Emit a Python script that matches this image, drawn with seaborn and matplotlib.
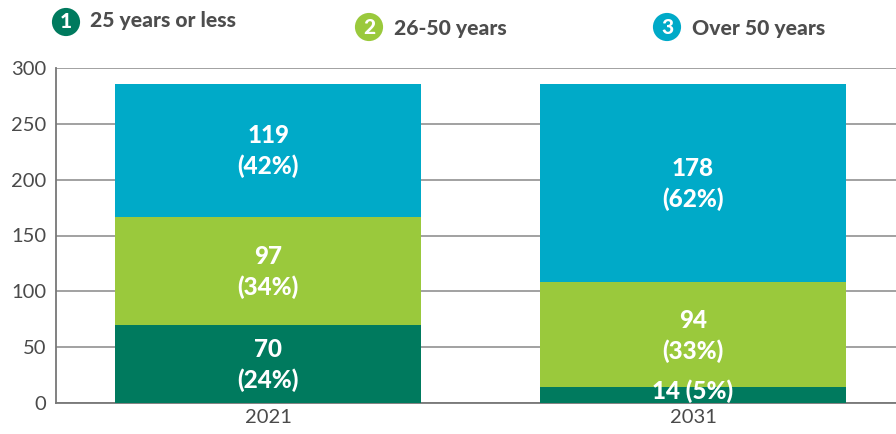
import matplotlib
matplotlib.use("Agg")
import matplotlib.pyplot as plt
import seaborn as sns
import numpy as np

years = ["2021", "2031"]
series_names = ["25 years or less", "26-50 years", "Over 50 years"]
young = [70, 14]
middle = [97, 94]
old = [119, 178]
young_pct = [24, 5]
middle_pct = [34, 33]
old_pct = [42, 62]
colors = ["#007a5e", "#9ac93c", "#00aac8"]

sns.set_theme(style="white")
plt.rcParams["font.family"] = ["Lato", "DejaVu Sans"]

fig = plt.figure(figsize=(8.96, 4.34), dpi=100)
ax = fig.add_axes([56 / 896, 31 / 434, 1 - 56 / 896, 335 / 434])

vals = [young, middle, old]
pcts = [young_pct, middle_pct, old_pct]
bottoms = np.zeros(len(years))
for v, c in zip(vals, colors):
    sns.barplot(x=years, y=v, bottom=bottoms.copy(), color=c, width=0.72,
                saturation=1, ax=ax, zorder=3, edgecolor="none", linewidth=0)
    bottoms = bottoms + np.array(v)

bottoms = np.zeros(len(years))
for v, p in zip(vals, pcts):
    for i in range(len(years)):
        center = bottoms[i] + v[i] / 2
        if v[i] < 30:
            txt = f"{v[i]} ({p[i]}%)"
            ax.text(i, 11, txt, ha="center", va="center", color="white",
                    fontsize=17.5, fontweight="black", zorder=5)
        else:
            txt = f"{v[i]}\n({p[i]}%)"
            ax.text(i, center - 1, txt, ha="center", va="center", color="white",
                    fontsize=17.5, fontweight="black", linespacing=1.4, zorder=5)
    bottoms = bottoms + np.array(v)

ax.set_ylim(0, 300)
ax.set_xlim(-0.5, 1.478)
ax.set_yticks([0, 50, 100, 150, 200, 250, 300])
ax.yaxis.grid(True, color="#9a9a9a", linewidth=1.3, zorder=0)
ax.set_axisbelow(True)
for s in ["top", "right"]:
    ax.spines[s].set_visible(False)
ax.spines["left"].set_color("#777777")
ax.spines["bottom"].set_color("#777777")
ax.spines["left"].set_linewidth(1.3)
ax.spines["bottom"].set_linewidth(1.3)
ax.tick_params(axis="both", length=0, labelsize=14.5, labelcolor="#4a4a4a", pad=7)
ax.tick_params(axis="x", pad=4)
ax.set_xlabel("")
ax.set_ylabel("")

# Legend with numbered circles
leg = [(66, 22, 90, 20), (369, 27, 394, 28), (667, 27, 692, 28)]
for k, ((cx, cy, tx, ty), name, c) in enumerate(zip(leg, series_names, colors)):
    fig.text(cx / 896, 1 - cy / 434, str(k + 1), ha="center", va="center",
             color="white", fontsize=15, fontweight="black",
             bbox=dict(boxstyle="circle,pad=0.22", fc=c, ec="none"))
    fig.text(tx / 896, 1 - ty / 434, name, ha="left", va="center",
             color="#4d4d4d", fontsize=15.2, fontweight="black")

fig.savefig("out.png", dpi=100)
